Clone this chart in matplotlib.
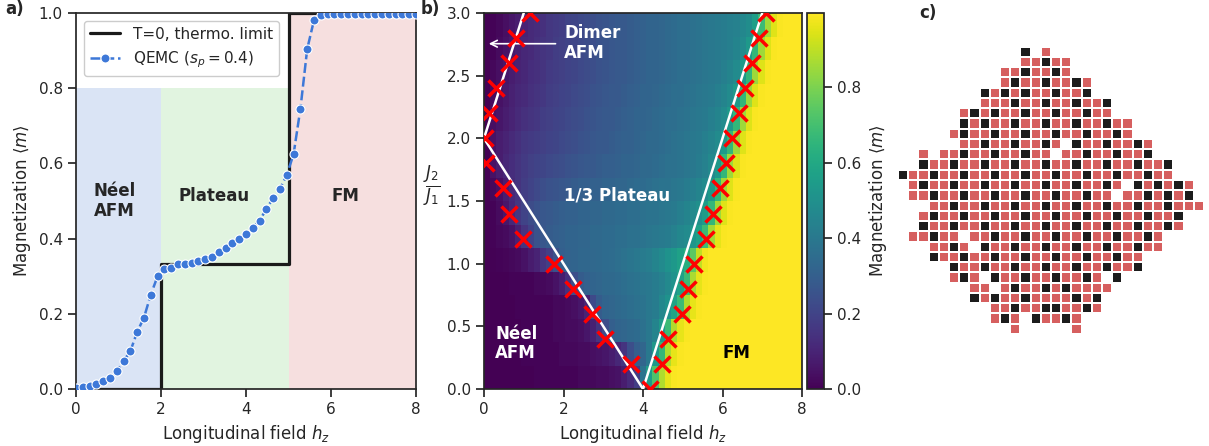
import numpy as np
import matplotlib
matplotlib.use("Agg")
import matplotlib.pyplot as plt
import seaborn as sns
from matplotlib.colors import ListedColormap

sns.set_theme(style="ticks", context="notebook")
plt.rcParams["font.family"] = ["DejaVu Sans"]

# ---------------- panel a data ----------------
hz_grid = np.linspace(0, 8, 51)
m_qemc = [0.002, 0.006, 0.008, 0.013, 0.020, 0.028, 0.047, 0.074, 0.101, 0.152,
          0.190, 0.251, 0.300, 0.319, 0.323, 0.332, 0.332, 0.335, 0.340, 0.347,
          0.352, 0.365, 0.374, 0.387, 0.398, 0.413, 0.428, 0.448, 0.479, 0.508,
          0.533, 0.569, 0.625, 0.745, 0.904, 0.981, 0.996, 0.997, 0.997, 0.997,
          0.997, 0.997, 0.997, 0.997, 0.997, 0.997, 0.997, 0.997, 0.997, 0.997,
          0.997]
step_h = [0, 2, 5, 8]
step_m = [0, 1 / 3, 1, 1]
region_edges = [0, 2, 5, 8]
region_tops = [0.8, 0.8, 1.0]
region_names = ["Néel\nAFM", "Plateau", "FM"]

# ---------------- panel b data ----------------
j2_values = [0.0, 0.2, 0.4, 0.6, 0.8, 1.0, 1.2, 1.4, 1.6, 1.8, 2.0, 2.2, 2.4, 2.6, 2.8, 3.0]
heat_pct = {
    0.0: [0,0,0,0,0,0,0,0,1,1, 1,1,1,1,1,2,2,2,3,3, 4,5,8,12,18,38,55,72,88,96, 99,100,100,100,100,100,100,100,100,100, 100,100,100,100,100,100,100,100,100,100, 100],
    0.2: [0,0,0,0,0,0,1,1,1,1, 1,1,2,2,2,3,3,4,5,6, 8,11,15,24,30,33,40,53,66,88, 96,99,100,100,100,100,100,100,100,100, 100,100,100,100,100,100,100,100,100,100, 100],
    0.4: [0,0,0,0,0,0,1,1,1,1, 1,2,2,3,3,4,6,9,15,24, 30,32,33,34,35,37,40,45,53,68, 88,96,99,100,100,100,100,100,100,100, 100,100,100,100,100,100,100,100,100,100, 100],
    0.6: [0,0,0,0,0,1,1,1,1,1, 1,2,2,3,4,6,10,22,29,32, 33,34,35,36,37,38,40,42,46,51, 58,68,88,96,99,100,100,100,100,100, 100,100,100,100,100,100,100,100,100,100, 100],
    0.8: [0,0,0,0,1,1,1,1,2,2, 3,5,8,14,24,29,31,32,33,34, 34,35,36,37,38,39,40,42,44,47, 51,57,68,87,96,99,100,100,100,100, 100,100,100,100,100,100,100,100,100,100, 100],
    1.2: [0,1,2,3,5,9,15,20,25,27, 29,30,31,32,32,33,33,34,34,35, 35,36,36,37,37,38,39,40,41,42, 44,46,48,52,57,68,86,96,99,100, 100,100,100,100,100,100,100,100,100,100, 100],
    1.4: [0,1,3,6,11,16,20,23,25,27, 28,29,30,31,31,32,32,33,33,34, 34,35,35,36,36,37,38,38,39,40, 41,43,45,47,50,55,66,85,95,99, 100,100,100,100,100,100,100,100,100,100, 100],
    1.6: [0,2,4,8,12,15,18,20,22,24, 25,26,27,28,29,30,30,31,31,32, 32,33,33,34,35,35,36,37,38,38, 39,40,42,43,45,48,54,66,85,95, 99,100,100,100,100,100,100,100,100,100, 100],
    1.8: [0,5,8,11,13,15,17,19,20,21, 22,23,24,25,26,27,28,28,29,30, 30,31,32,32,33,34,34,35,36,37, 37,38,39,40,42,44,47,53,66,85, 95,99,100,100,100,100,100,100,100,100, 100],
    2.0: [0,5,8,10,12,14,16,17,18,19, 20,21,22,23,24,25,26,27,28,28, 29,30,31,31,32,33,34,34,35,36, 37,38,39,40,41,43,45,48,54,66, 85,95,99,100,100,100,100,100,100,100, 100],
    2.2: [0,4,6,8,10,12,14,15,16,18, 19,20,21,22,23,24,25,26,27,28, 28,29,30,31,32,32,33,34,35,36, 36,37,38,39,40,41,43,45,48,54, 66,85,95,99,100,100,100,100,100,100, 100],
    2.4: [0,3,5,7,9,11,12,14,15,16, 18,19,20,21,22,23,24,25,26,27, 28,28,29,30,31,32,32,33,34,35, 36,36,37,38,39,40,41,43,45,48, 54,66,85,95,99,100,100,100,100,100, 100],
    2.6: [0,2,4,6,8,10,11,13,14,15, 17,18,19,20,21,22,23,24,25,26, 27,28,28,29,30,31,32,32,33,34, 35,36,36,37,38,39,40,41,43,45, 48,54,66,85,95,99,100,100,100,100, 100],
    2.8: [0,1,3,5,7,9,11,12,14,15, 16,18,19,20,21,22,23,24,25,26, 27,28,28,29,30,31,32,32,33,34, 35,36,36,37,38,39,40,41,42,43, 45,48,54,66,85,95,99,100,100,100, 100],
    3.0: [0,1,2,4,6,8,10,12,13,14, 16,17,18,20,21,22,23,24,25,26, 27,28,28,29,30,31,32,32,33,34, 35,36,36,37,38,39,40,41,42,43, 44,46,49,56,68,86,95,99,100,100, 100],
}
left_cross_j2 = [0.2, 0.4, 0.6, 0.8, 1.0, 1.2, 1.4, 1.6, 1.8, 2.0, 2.2, 2.4, 2.6, 2.8, 3.0]
left_cross_h = [3.69, 3.05, 2.72, 2.24, 1.75, 0.97, 0.64, 0.48, 0.05, 0.03, 0.12, 0.31, 0.64, 0.80, 1.16]
right_cross_j2 = [0.0, 0.2, 0.4, 0.6, 0.8, 1.0, 1.2, 1.4, 1.6, 1.8, 2.0, 2.2, 2.4, 2.6, 2.8, 3.0]
right_cross_h = [4.17, 4.49, 4.63, 4.97, 5.12, 5.28, 5.59, 5.76, 5.93, 6.08, 6.25, 6.41, 6.57, 6.74, 6.91, 7.10]
# theory boundaries (h, J2/J1)
bound_neel_h, bound_neel_j = [0, 4], [2, 0]
bound_dimer_h, bound_dimer_j = [0, 1], [2, 3]
bound_fm_h, bound_fm_j = [4, 7], [0, 3]

# ---------------- panel c data ----------------
lattice_rows = [
    "............k.r...............",
    "............rrkrr.............",
    "..........rrkrrkr.............",
    "..........rkrrkrrkr...........",
    "........krkrkrrkrrk...........",
    "........rrrkrrkrrkrrk.........",
    "......rkrkrrkrrkrrkrr.........",
    "......krkrrkrrkrrkrrkrr.......",
    ".....rkrrkrrkrrkrrkrrkr.......",
    "......rrkrrkrrkr.krrkrrkr.....",
    "..r.rrkrrkrrkrr.rrkrrkrrk.....",
    "..krrkrrkrrkrrkrrkrrkrrkrrk...",
    "krrkrrkrrkrrkrrkrrkrrkrrkrr...",
    ".rkrrkrrkrrkrrkrrkrrkr.krkrkr.",
    ".rrkrrkrrkrrkrrkrrkrr.rrkrkrk.",
    "...rrkrrkrrkrrkrrkrrkrrkrrkrrr",
    "..rkrrkrrkrrkrrkrrkrrkrrkrrk..",
    "..krrkrrkrrkrrkrrkrrkrrkrrkr..",
    ".rrkrr.rrkrrkrrkrrkrrkrrkr....",
    "...rrkr.krrkrrkrrkrrkrrkrr....",
    "...krrkrrkrrkrrkrrkrrkrr......",
    ".....krrkrrkrrkrrkrrkrrk......",
    ".....rkr.krrkrrkrrkr.k........",
    ".......rr.rkrrkrkrrrr.........",
    ".......krkrrkrrrrkrk..........",
    ".........rrkrrkkrrkr..........",
    ".........rkr.krrkr............",
    "...........r.....r............",
]

W, H = 1209, 446
fig = plt.figure(figsize=(W / 100, H / 100), dpi=100)

def fx(px):
    return px / W

def fy(py):
    return 1 - py / H

ax_bot, ax_top = 389, 13
ax_h = (ax_bot - ax_top) / H

# ================= panel a =================
axa = fig.add_axes([fx(76), fy(ax_bot), (416 - 76) / W, ax_h])
span_cols = ["#4878d0", "#6acc64", "#d65f5f"]
for i in range(3):
    axa.axvspan(region_edges[i], region_edges[i + 1], ymin=0, ymax=region_tops[i],
                color=span_cols[i], alpha=0.2, lw=0, zorder=0)
axa.step(step_h, step_m, where="post", color="k", lw=2.3, zorder=2,
         label="T=0, thermo. limit")
axa.plot(hz_grid, m_qemc, color="#3d78d8", ls=(0, (4, 1.5)), lw=1.8, marker="o", ms=6.5,
         mec="white", mew=0.8, zorder=3, label=r"QEMC ($s_p=0.4$)")
label_pos = [(0.9, 0.5), (3.25, 0.513), (6.35, 0.513)]
for name, (x, y) in zip(region_names, label_pos):
    axa.text(x, y, name, ha="center", va="center", fontsize=12, fontweight="bold",
             color="#262626", linespacing=1.1)
axa.set_xlim(0, 8)
axa.set_ylim(0, 1)
axa.set_xticks([0, 2, 4, 6, 8])
axa.set_yticks([0, 0.2, 0.4, 0.6, 0.8, 1.0])
axa.set_xlabel(r"Longitudinal field $h_z$", fontsize=12)
axa.set_ylabel(r"Magnetization $\langle m\rangle$", fontsize=12)
axa.tick_params(labelsize=11)
axa.legend(loc="upper left", fontsize=11, framealpha=1)

# ================= panel b =================
axb = fig.add_axes([fx(484), fy(ax_bot), (802 - 484) / W, ax_h])
heat = np.array([m_qemc if j == 1.0 else np.array(heat_pct[j]) / 100.0 for j in j2_values])
im = axb.imshow(heat, extent=[0, 8, 0, 3], origin="lower", aspect="auto",
                cmap="viridis", vmin=0, vmax=0.997, interpolation="nearest")
for bh, bj in [(bound_neel_h, bound_neel_j), (bound_dimer_h, bound_dimer_j), (bound_fm_h, bound_fm_j)]:
    axb.plot(bh, bj, color="white", lw=1.8, zorder=3)
axb.plot(left_cross_h, left_cross_j2, ls="none", marker="x", color="red", ms=11, mew=2.5, zorder=4)
axb.plot(right_cross_h, right_cross_j2, ls="none", marker="x", color="red", ms=11, mew=2.5, zorder=4)
axb.annotate("", xy=(0.05, 2.755), xytext=(1.87, 2.755),
             arrowprops=dict(arrowstyle="->", color="white", lw=1.2))
axb.text(2.02, 2.76, "Dimer\nAFM", color="white", fontsize=12, fontweight="bold",
         ha="left", va="center", linespacing=1.1)
axb.text(3.34, 1.54, "1/3 Plateau", color="white", fontsize=12, fontweight="bold",
         ha="center", va="center")
axb.text(0.28, 0.365, "Néel\nAFM", color="white", fontsize=12, fontweight="bold",
         ha="left", va="center", linespacing=1.1)
axb.text(6.36, 0.29, "FM", color="black", fontsize=12, fontweight="bold",
         ha="center", va="center")
axb.set_xlim(0, 8)
axb.set_ylim(0, 3)
axb.set_xticks([0, 2, 4, 6, 8])
axb.set_yticks([0, 0.5, 1.0, 1.5, 2.0, 2.5, 3.0])
axb.tick_params(labelsize=11)
axb.set_xlabel(r"Longitudinal field $h_z$", fontsize=12)
axb.set_ylabel(r"$\frac{J_2}{J_1}$", fontsize=17, rotation=0, va="center", ha="center")
axb.yaxis.set_label_coords(-0.163, 0.54)

cax = fig.add_axes([fx(807), fy(ax_bot), 17 / W, ax_h])
cb = fig.colorbar(im, cax=cax)
cb.set_ticks([0, 0.2, 0.4, 0.6, 0.8])
cax.tick_params(labelsize=11)
cb.set_label(r"Magnetization $\langle m\rangle$", fontsize=12)

# ================= panel c =================
axc = fig.add_axes([fx(898), fy(334), 306 / W, (334 - 46.5) / H])
nrow, ncol = len(lattice_rows), len(lattice_rows[0])
code = {"r": 0.0, "k": 1.0, ".": np.nan}
grid = np.array([[code[ch] for ch in row] for row in lattice_rows])
axc.pcolormesh(np.arange(ncol + 1) - 0.5, np.arange(nrow + 1) - 0.5,
               np.ma.masked_invalid(grid),
               cmap=ListedColormap(["#d65f5f", "#1c1c1c"]), vmin=0, vmax=1,
               edgecolors="white", linewidth=1.2)
axc.set_xlim(-0.5, ncol - 0.5)
axc.set_ylim(nrow - 0.5, -0.5)
axc.axis("off")

# panel labels
fig.text(fx(5), fy(9), "a)", fontsize=12, fontweight="bold", va="center", ha="left")
fig.text(fx(421), fy(9), "b)", fontsize=12, fontweight="bold", va="center", ha="left")
fig.text(fx(919), fy(13), "c)", fontsize=12, fontweight="bold", va="center", ha="left")

fig.savefig("out.png", dpi=100)
